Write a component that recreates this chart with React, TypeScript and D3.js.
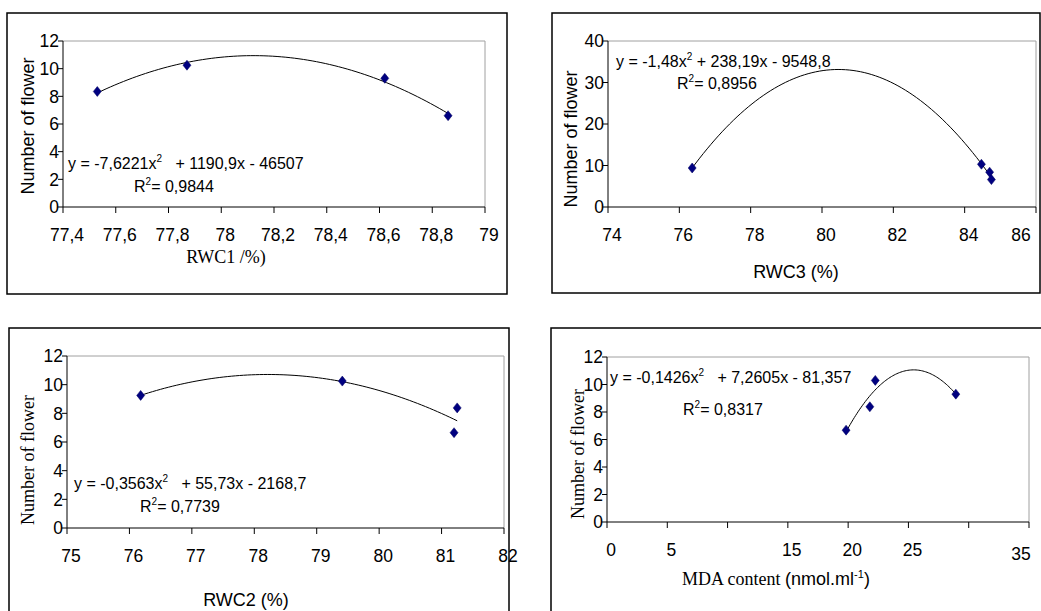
import React, { useRef, useEffect } from "react";
import * as d3 from "d3";

const W = 1041;
const H = 611;
const SANS = "Arial, 'Liberation Sans', sans-serif";
const SERIF = "'Times New Roman', 'Liberation Serif', serif";

// RWC1 panel
const rwc1 = [77.53, 77.87, 78.62, 78.86];
const rwc1Flowers = [8.35, 10.25, 9.3, 6.6];
const rwc1Ticks = [77.4, 77.6, 77.8, 78, 78.2, 78.4, 78.6, 78.8, 79];
const rwc1TickLabels = ["77,4", "77,6", "77,8", "78", "78,2", "78,4", "78,6", "78,8", "79"];

// RWC3 panel
const rwc3 = [76.36, 84.47, 84.7, 84.75];
const rwc3Flowers = [9.4, 10.3, 8.4, 6.6];
const rwc3Ticks = [74, 76, 78, 80, 82, 84, 86];
const rwc3TickLabels = ["74", "76", "78", "80", "82", "84", "86"];

// RWC2 panel
const rwc2 = [76.18, 79.41, 81.2, 81.25];
const rwc2Flowers = [9.25, 10.25, 6.65, 8.38];
const rwc2Ticks = [75, 76, 77, 78, 79, 80, 81, 82];
const rwc2TickLabels = ["75", "76", "77", "78", "79", "80", "81", "82"];

// MDA panel
const mda = [19.83, 21.8, 22.25, 28.93];
const mdaFlowers = [6.68, 8.38, 10.3, 9.3];
const mdaTicks = [0, 5, 10, 15, 20, 25, 30, 35];
const mdaTickLabels = ["0", "5", "", "15", "20", "25", "", "35"];

const flowerTicks12 = [0, 2, 4, 6, 8, 10, 12];
const flowerTicks40 = [0, 10, 20, 30, 40];

// least squares quadratic trendline (x centred for stability)
function quadFit(xs: number[], ys: number[]) {
  const m = d3.mean(xs) as number;
  let s0 = 0, s1 = 0, s2 = 0, s3 = 0, s4 = 0, t0 = 0, t1 = 0, t2 = 0;
  xs.forEach((x, i) => {
    const u = x - m;
    const v = ys[i];
    s0 += 1; s1 += u; s2 += u * u; s3 += u * u * u; s4 += u * u * u * u;
    t0 += v; t1 += u * v; t2 += u * u * v;
  });
  const A = [
    [s4, s3, s2, t2],
    [s3, s2, s1, t1],
    [s2, s1, s0, t0],
  ];
  for (let c = 0; c < 3; c++) {
    for (let r = c + 1; r < 3; r++) {
      const f = A[r][c] / A[c][c];
      for (let k = c; k < 4; k++) A[r][k] -= f * A[c][k];
    }
  }
  const sol = [0, 0, 0];
  for (let r = 2; r >= 0; r--) {
    let s = A[r][3];
    for (let k = r + 1; k < 3; k++) s -= A[r][k] * sol[k];
    sol[r] = s / A[r][r];
  }
  const [a, b, c] = sol;
  return (x: number) => a * (x - m) * (x - m) + b * (x - m) + c;
}

type Props = {
  box: number[];
  plot: number[];
  xDomain: number[];
  xTicks: number[];
  xTickLabels: string[];
  yDomain: number[];
  yTicks: number[];
  xs: number[];
  ys: number[];
  eq: string[];
  eqPos: number[];
  r2: string;
  r2Pos: number[];
  xTitle: string;
  xTitleFont: string;
  xTitlePos: number[];
  yTitleFont: string;
  yTitlePos: number[];
  lastLabelDy?: number;
};

const Panel = (p: Props) => {
  const ref = useRef<SVGGElement>(null);

  useEffect(() => {
    const g = d3.select(ref.current);
    g.selectAll("*").remove();
    const [left, top, right, bottom] = p.plot;

    const x = d3.scaleLinear().domain(p.xDomain).range([left, right]);
    const y = d3.scaleLinear().domain(p.yDomain).range([bottom, top]);

    g.append("rect")
      .attr("x", p.box[0])
      .attr("y", p.box[1])
      .attr("width", p.box[2] - p.box[0])
      .attr("height", p.box[3] - p.box[1])
      .attr("fill", "none")
      .attr("stroke", "#000")
      .attr("stroke-width", 1.5);

    // plot area frame
    g.append("path")
      .attr("d", `M${left},${top}H${right}V${bottom}`)
      .attr("fill", "none")
      .attr("stroke", "#a0a0a0");
    g.append("path")
      .attr("d", `M${left},${top}V${bottom}H${right}`)
      .attr("fill", "none")
      .attr("stroke", "#000");

    // y ticks
    p.yTicks.forEach((t) => {
      g.append("line")
        .attr("x1", left - 5).attr("x2", left)
        .attr("y1", y(t)).attr("y2", y(t))
        .attr("stroke", "#000");
      g.append("text")
        .attr("x", left - 4)
        .attr("y", y(t))
        .attr("dy", "0.36em")
        .attr("text-anchor", "end")
        .style("font-family", SANS)
        .style("font-size", "17.5px")
        .text(String(t));
    });

    // x ticks
    p.xTicks.forEach((t, i) => {
      g.append("line")
        .attr("x1", x(t)).attr("x2", x(t))
        .attr("y1", bottom).attr("y2", bottom + 6)
        .attr("stroke", "#000");
      const last = i === p.xTicks.length - 1;
      g.append("text")
        .attr("x", Math.min(x(t) + 4, W - 20))
        .attr("y", bottom + 34 + (last && p.lastLabelDy ? p.lastLabelDy : 0))
        .attr("text-anchor", "middle")
        .style("font-family", SANS)
        .style("font-size", "17.5px")
        .text(p.xTickLabels[i]);
    });

    // trendline
    const f = quadFit(p.xs, p.ys);
    const [x0, x1] = d3.extent(p.xs) as [number, number];
    const pts = d3.range(0, 81).map((k) => x0 + ((x1 - x0) * k) / 80);
    g.append("path")
      .datum(pts)
      .attr("fill", "none")
      .attr("stroke", "#000")
      .attr("stroke-width", 1)
      .attr(
        "d",
        d3.line<number>().x((d) => x(d)).y((d) => y(f(d)))
      );

    // markers
    g.selectAll(".pt")
      .data(p.xs)
      .enter()
      .append("path")
      .attr("transform", (d, i) => `translate(${x(d)},${y(p.ys[i])})`)
      .attr("d", "M0,-5L4,0L0,5L-4,0Z")
      .attr("fill", "#000080")
      .attr("stroke", "#000060")
      .attr("stroke-width", 0.5);

    // equation + R2
    const eq = g.append("text")
      .attr("x", p.eqPos[0])
      .attr("y", p.eqPos[1])
      .attr("dy", "0.36em")
      .style("font-family", SANS)
      .style("font-size", "16px")
      .style("white-space", "pre");
    eq.append("tspan").text(p.eq[0]);
    eq.append("tspan").attr("dy", -7).style("font-size", "10px").text("2");
    eq.append("tspan").attr("dy", 7).text(p.eq[1]);

    const r2 = g.append("text")
      .attr("x", p.r2Pos[0])
      .attr("y", p.r2Pos[1])
      .attr("dy", "0.36em")
      .style("font-family", SANS)
      .style("font-size", "16px");
    r2.append("tspan").text("R");
    r2.append("tspan").attr("dy", -7).style("font-size", "10px").text("2");
    r2.append("tspan").attr("dy", 7).text("= " + p.r2);

    // axis titles
    g.append("text")
      .attr("transform", `translate(${p.yTitlePos[0]},${p.yTitlePos[1]}) rotate(-90)`)
      .attr("dy", "0.36em")
      .attr("text-anchor", "middle")
      .style("font-family", p.yTitleFont)
      .style("font-size", "18px")
      .text("Number of flower");

    const xt = g.append("text")
      .attr("x", p.xTitlePos[0])
      .attr("y", p.xTitlePos[1])
      .attr("dy", "0.36em")
      .attr("text-anchor", "middle")
      .style("font-family", p.xTitleFont)
      .style("font-size", "18px");
    if (p.xTitle === "MDA") {
      xt.append("tspan").text("MDA content ");
      xt.append("tspan").style("font-family", SANS).text("(nmol.ml");
      xt.append("tspan").attr("dy", -7).style("font-family", SANS).style("font-size", "11px").text("-1");
      xt.append("tspan").attr("dy", 7).style("font-family", SANS).text(")");
    } else {
      xt.text(p.xTitle);
    }
  }, [p]);

  return <g ref={ref}></g>;
};

const App = () => {
  return (
    <div style={{ position: "absolute", left: 0, top: 0 }}>
      <svg width={W} height={H} style={{ display: "block", background: "#fff" }}>
        <Panel
          box={[7, 13, 507, 294]}
          plot={[63, 41, 485, 207]}
          xDomain={[77.4, 79]}
          xTicks={rwc1Ticks}
          xTickLabels={rwc1TickLabels}
          yDomain={[0, 12]}
          yTicks={flowerTicks12}
          xs={rwc1}
          ys={rwc1Flowers}
          eq={["y = -7,6221x", "   + 1190,9x - 46507"]}
          eqPos={[68, 163]}
          r2="0,9844"
          r2Pos={[134, 186]}
          xTitle="RWC1 /%)"
          xTitleFont={SERIF}
          xTitlePos={[226, 257]}
          yTitleFont={SANS}
          yTitlePos={[28, 126]}
        />
        <Panel
          box={[552, 13, 1040, 293]}
          plot={[608, 41, 1036, 207]}
          xDomain={[74, 86]}
          xTicks={rwc3Ticks}
          xTickLabels={rwc3TickLabels}
          yDomain={[0, 40]}
          yTicks={flowerTicks40}
          xs={rwc3}
          ys={rwc3Flowers}
          eq={["y = -1,48x", " + 238,19x - 9548,8"]}
          eqPos={[616, 61]}
          r2="0,8956"
          r2Pos={[677, 83]}
          xTitle="RWC3 (%)"
          xTitleFont={SANS}
          xTitlePos={[796, 272]}
          yTitleFont={SANS}
          yTitlePos={[571, 139]}
        />
        <Panel
          box={[9, 328, 509, 640]}
          plot={[67, 356, 504, 528]}
          xDomain={[75, 82]}
          xTicks={rwc2Ticks}
          xTickLabels={rwc2TickLabels}
          yDomain={[0, 12]}
          yTicks={flowerTicks12}
          xs={rwc2}
          ys={rwc2Flowers}
          eq={["y = -0,3563x", "   + 55,73x - 2168,7"]}
          eqPos={[74, 483]}
          r2="0,7739"
          r2Pos={[140, 506]}
          xTitle="RWC2 (%)"
          xTitleFont={SANS}
          xTitlePos={[246, 600]}
          yTitleFont={SERIF}
          yTitlePos={[28, 460]}
        />
        <Panel
          box={[551, 328, 1050, 640]}
          plot={[607, 357, 1029, 522]}
          xDomain={[0, 35]}
          xTicks={mdaTicks}
          xTickLabels={mdaTickLabels}
          yDomain={[0, 12]}
          yTicks={flowerTicks12}
          xs={mda}
          ys={mdaFlowers}
          eq={["y = -0,1426x", "   + 7,2605x - 81,357"]}
          eqPos={[610, 377]}
          r2="0,8317"
          r2Pos={[683, 409]}
          xTitle="MDA"
          xTitleFont={SERIF}
          xTitlePos={[776, 579]}
          yTitleFont={SERIF}
          yTitlePos={[578, 454]}
          lastLabelDy={4}
        />
      </svg>
    </div>
  );
};

export default App;
